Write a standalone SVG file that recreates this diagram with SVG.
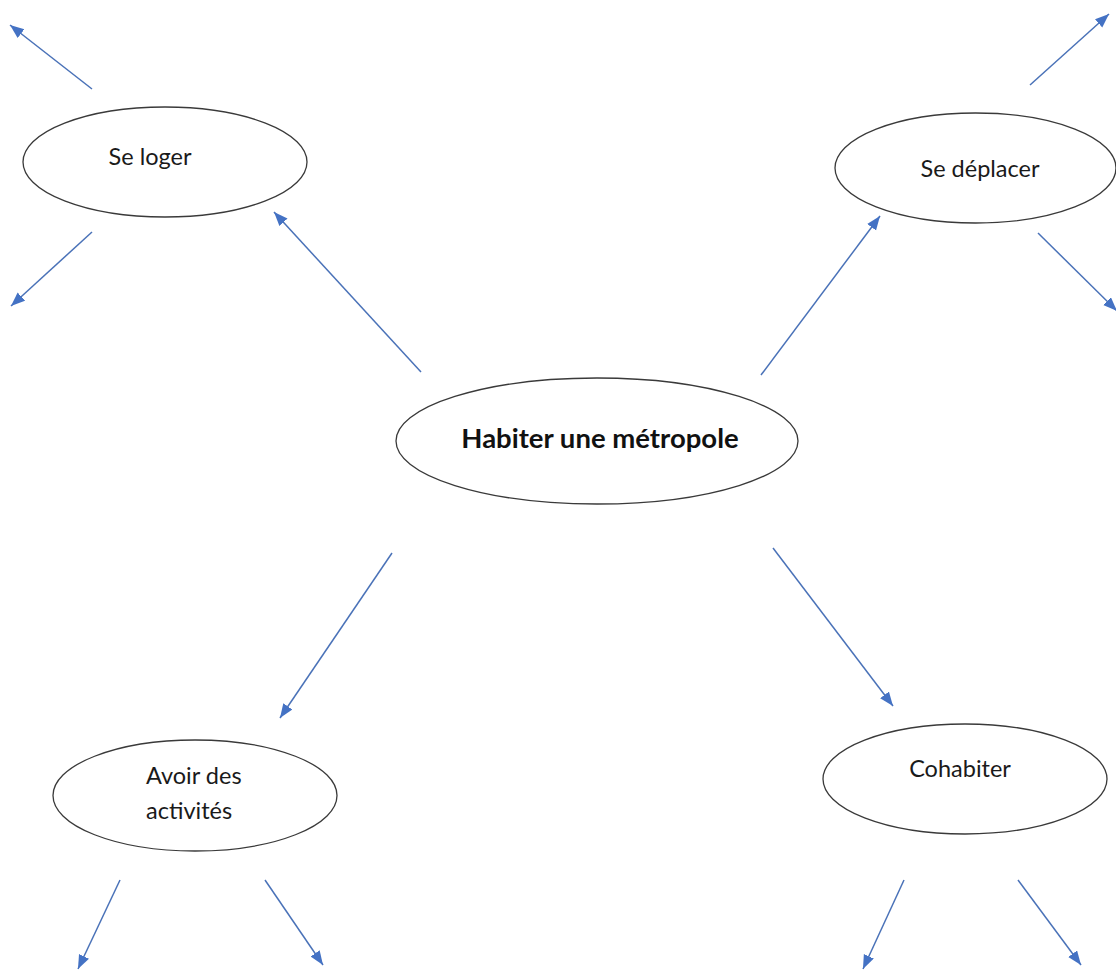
<svg xmlns="http://www.w3.org/2000/svg" width="1116" height="972" viewBox="0 0 1116 972">
<style>
.node{fill:#ffffff;stroke:#3a3a3a;stroke-width:1.3}
.lbl{font-family:Lato,"Liberation Sans",sans-serif;font-size:23.5px;fill:#1a1a1a}
.main{font-family:Lato,"Liberation Sans",sans-serif;font-size:27.5px;font-weight:bold;fill:#111111}
.arr{stroke:#4a72b8;stroke-width:1.5;fill:none;marker-end:url(#ah)}
</style>
<defs>
<marker id="ah" markerUnits="userSpaceOnUse" markerWidth="15" markerHeight="12" refX="14" refY="5.5" orient="auto">
<path d="M0,0 L14,5.5 L0,11 z" fill="#4472c4"/>
</marker>
</defs>
<rect width="1116" height="972" fill="#ffffff"/>
<g id="connectors">
<line class="arr" x1="92" y1="89" x2="10" y2="25"/>
<line class="arr" x1="92" y1="232" x2="11" y2="306"/>
<line class="arr" x1="421" y1="372" x2="274" y2="212"/>
<line class="arr" x1="761" y1="375" x2="880" y2="216"/>
<line class="arr" x1="1030" y1="85" x2="1109" y2="14"/>
<line class="arr" x1="1038" y1="233" x2="1117" y2="311"/>
<line class="arr" x1="392" y1="553" x2="280" y2="718"/>
<line class="arr" x1="773" y1="548" x2="893" y2="706"/>
<line class="arr" x1="120" y1="880" x2="78" y2="969"/>
<line class="arr" x1="265" y1="880" x2="323" y2="965"/>
<line class="arr" x1="904" y1="880" x2="863" y2="969"/>
<line class="arr" x1="1018" y1="880" x2="1081" y2="965"/>
</g>
<g id="se-loger">
<ellipse class="node" cx="165" cy="162" rx="142" ry="55"/>
<text class="lbl" x="150" y="165" text-anchor="middle">Se loger</text>
</g>
<g id="se-deplacer">
<ellipse class="node" cx="975.5" cy="168" rx="140.5" ry="55"/>
<text class="lbl" x="980" y="177" text-anchor="middle">Se déplacer</text>
</g>
<g id="habiter">
<ellipse class="node" cx="597" cy="441" rx="201" ry="63"/>
<text class="main" x="600" y="448" text-anchor="middle">Habiter une métropole</text>
</g>
<g id="avoir">
<ellipse class="node" cx="195" cy="795.5" rx="142" ry="55.5"/>
<text class="lbl" x="146" y="784">Avoir des</text>
<text class="lbl" x="146" y="819">activités</text>
</g>
<g id="cohabiter">
<ellipse class="node" cx="965" cy="779" rx="142" ry="55"/>
<text class="lbl" x="960" y="777" text-anchor="middle">Cohabiter</text>
</g>
</svg>
